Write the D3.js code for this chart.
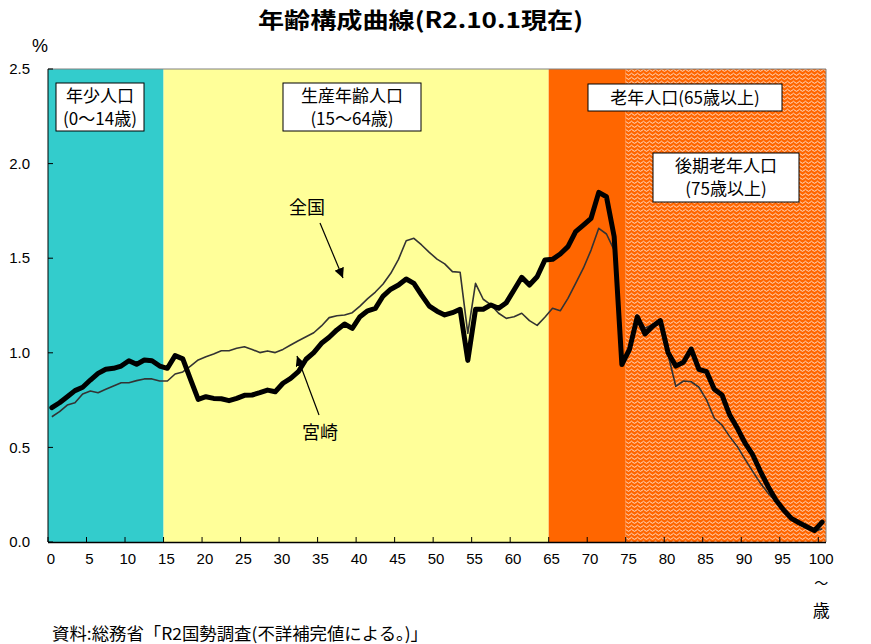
<!DOCTYPE html>
<html><head><meta charset="utf-8">
<script src="https://cdn.jsdelivr.net/npm/d3@7"></script>
<style>
body{margin:0;background:#fff;}
svg{display:block;}
</style></head>
<body>
<svg id="chart" width="871" height="644"></svg>
<script>
// ---- data ----
const ages = d3.range(0, 101).map(String);
const tickAges = ["0","5","10","15","20","25","30","35","40","45","50","55","60","65","70","75","80","85","90","95","100"];
const yTicks = [0, 0.5, 1.0, 1.5, 2.0, 2.5];
const miyazaki = [
0.710,0.736,0.768,0.800,0.818,0.856,0.891,0.913,0.918,0.930,
0.958,0.939,0.962,0.958,0.930,0.918,0.985,0.968,0.860,0.754,
0.768,0.759,0.757,0.747,0.759,0.775,0.777,0.789,0.803,0.794,
0.839,0.865,0.900,0.966,1.001,1.050,1.082,1.121,1.152,1.129,
1.191,1.222,1.235,1.300,1.336,1.358,1.390,1.367,1.305,1.247,
1.220,1.200,1.212,1.230,0.960,1.230,1.230,1.253,1.235,1.265,
1.332,1.399,1.358,1.402,1.490,1.494,1.522,1.561,1.640,1.675,
1.711,1.848,1.825,1.614,0.938,1.020,1.190,1.100,1.140,1.170,
1.000,0.930,0.950,1.020,0.913,0.900,0.807,0.777,0.671,0.601,
0.522,0.460,0.372,0.292,0.222,0.169,0.125,0.102,0.081,0.060,
0.105];
const zenkoku = [
0.662,0.689,0.724,0.736,0.782,0.798,0.789,0.807,0.825,0.842,
0.842,0.853,0.862,0.862,0.851,0.851,0.888,0.899,0.930,0.962,
0.979,0.994,1.011,1.011,1.024,1.032,1.018,1.001,1.010,1.001,
1.018,1.041,1.064,1.085,1.106,1.142,1.186,1.196,1.200,1.212,
1.247,1.286,1.321,1.364,1.420,1.494,1.592,1.605,1.570,1.531,
1.495,1.470,1.429,1.426,1.103,1.367,1.283,1.253,1.209,1.182,
1.191,1.209,1.170,1.145,1.188,1.235,1.222,1.288,1.367,1.447,
1.543,1.658,1.628,1.543,0.950,1.000,1.200,1.130,1.150,1.160,
0.990,0.823,0.851,0.847,0.818,0.751,0.654,0.618,0.557,0.504,
0.437,0.372,0.310,0.257,0.213,0.165,0.120,0.095,0.075,0.055,
0.070];
const bands = [
  {from:"0", to:"15", color:"#33CCCC"},
  {from:"15", to:"65", color:"#FFFF99"},
  {from:"65", to:"75", color:"#FF6600"},
  {from:"75", to:null, color:"url(#wave)"}
];
const boxes = [
  {lines:["年少人口","(0〜14歳)"]},
  {lines:["生産年齢人口","(15〜64歳)"]},
  {lines:["老年人口(65歳以上)"]},
  {lines:["後期老年人口","(75歳以上)"]}
];

// ---- layout ----
const svg = d3.select("#chart");
const L = 48, R = 826, T = 69, B = 542;
const x = d3.scaleBand().domain(ages).range([L, R]).padding(0);
const y = d3.scaleLinear().domain([0, 2.5]).range([B, T]);
const cx = a => x(a) + x.bandwidth()/2;

const defs = svg.append("defs");
const pat = defs.append("pattern").attr("id","wave").attr("patternUnits","userSpaceOnUse")
  .attr("width",6).attr("height",4);
pat.append("rect").attr("width",6).attr("height",4).attr("fill","#FF6600");
pat.append("path").attr("d","M0,2.5 L1.5,1.2 L3,2.5 L4.5,3.3 L6,2.5")
  .attr("fill","none").attr("stroke","#fff").attr("stroke-width",0.9).attr("opacity",0.85);
const mk2 = defs.append("marker").attr("id","arr2").attr("viewBox","0 0 10 10")
  .attr("refX",10).attr("refY",5).attr("markerWidth",10).attr("markerHeight",10)
  .attr("markerUnits","userSpaceOnUse").attr("orient","auto");
mk2.append("path").attr("d","M0,0 L10,5 L0,10 Z").attr("fill","#000");

// bands
svg.append("g").selectAll("rect").data(bands).join("rect")
  .attr("x", d => x(d.from))
  .attr("y", T)
  .attr("width", d => (d.to ? x(d.to) : R) - x(d.from))
  .attr("height", B - T)
  .attr("fill", d => d.color);

// plot border (top/right)
svg.append("path").attr("d",`M${L},${T}H${R}V${B}`).attr("fill","none").attr("stroke","#808080").attr("stroke-width",1);

// lines
const line = d3.line().x((d,i) => cx(ages[i])).y(d => y(d));
svg.append("path").datum(zenkoku).attr("d", line).attr("fill","none")
  .attr("stroke","#333").attr("stroke-width",1.6).attr("stroke-linejoin","round");
svg.append("path").datum(miyazaki).attr("d", line).attr("fill","none")
  .attr("stroke","#000").attr("stroke-width",5).attr("stroke-linejoin","round").attr("stroke-linecap","round");

// axes
const axG = svg.append("g");
axG.append("line").attr("x1",L).attr("x2",L).attr("y1",T).attr("y2",B).attr("stroke","#000");
axG.append("line").attr("x1",L).attr("x2",R).attr("y1",B+0.5).attr("y2",B+0.5).attr("stroke","#000").attr("stroke-width",1.5);
axG.selectAll(".yt").data(yTicks).join("line")
  .attr("x1",L).attr("x2",L+5).attr("y1",d=>y(d)).attr("y2",d=>y(d)).attr("stroke","#000");
axG.selectAll(".yl").data(yTicks).join("text")
  .attr("x",30).attr("y",d=>y(d)).attr("dy","0.35em").attr("text-anchor","end")
  .attr("font-family","Liberation Sans, Arial, sans-serif").attr("font-size",15)
  .text(d=>d.toFixed(1));
axG.selectAll(".xt").data(tickAges).join("line")
  .attr("x1",d=>x(d)).attr("x2",d=>x(d)).attr("y1",B).attr("y2",B-5).attr("stroke","#000");
axG.selectAll(".xl").data(tickAges).join("text")
  .attr("x",d=>cx(d)-1).attr("y",564).attr("text-anchor","middle")
  .attr("font-family","Liberation Sans, Arial, sans-serif").attr("font-size",15)
  .text(d=>d);
axG.append("text").attr("x",cx("100")-1).attr("y",588).attr("text-anchor","middle")
  .attr("font-family","Noto Sans CJK JP").attr("font-size",14).text("〜");
axG.append("text").attr("x",cx("100")-1).attr("y",617).attr("text-anchor","middle")
  .attr("font-family","Noto Sans CJK JP").attr("font-size",17).text("歳");
svg.append("text").attr("x",40).attr("y",52).attr("text-anchor","middle")
  .attr("font-family","Liberation Sans, Arial, sans-serif").attr("font-size",18).text("%");

// title
svg.append("text").attr("x",258).attr("y",28)
  .attr("font-family","Noto Sans CJK JP").attr("font-weight","bold").attr("font-size",22)
  .attr("textLength",325).attr("lengthAdjust","spacingAndGlyphs")
  .text("年齢構成曲線(R2.10.1現在)");

// footnote
svg.append("text").attr("x",52).attr("y",640)
  .attr("font-family","Noto Sans CJK JP").attr("font-size",17)
  .attr("textLength",376).attr("lengthAdjust","spacingAndGlyphs")
  .text("資料:総務省「R2国勢調査(不詳補完値による。)」");

// annotation boxes
const boxPos = [
  {x0:56, x1:144, y0:83, y1:131},
  {x0:283, x1:421, y0:83, y1:131},
  {x0:588, x1:782, y0:84, y1:111},
  {x0:653, x1:799, y0:153, y1:202}
];
boxes.forEach((b,i) => {
  const p = boxPos[i];
  const g = svg.append("g");
  g.append("rect").attr("x",p.x0).attr("y",p.y0).attr("width",p.x1-p.x0).attr("height",p.y1-p.y0)
    .attr("fill","#fff").attr("stroke","#000").attr("stroke-width",1);
  const n = b.lines.length, lh = 23;
  const mid = (p.y0+p.y1)/2;
  b.lines.forEach((t,j) => {
    g.append("text").attr("x",(p.x0+p.x1)/2).attr("y", mid + (j-(n-1)/2)*lh).attr("dy","0.36em")
      .attr("text-anchor","middle").attr("font-family","Noto Sans CJK JP").attr("font-size",17).text(t);
  });
});

// series labels with arrows
svg.append("text").attr("x",307).attr("y",208).attr("dy","0.36em").attr("text-anchor","middle")
  .attr("font-family","Noto Sans CJK JP").attr("font-size",18).text("全国");
svg.append("line").attr("x1",320).attr("y1",223).attr("x2",343).attr("y2",278)
  .attr("stroke","#000").attr("stroke-width",1.2).attr("marker-end","url(#arr2)");
svg.append("text").attr("x",320).attr("y",433).attr("dy","0.36em").attr("text-anchor","middle")
  .attr("font-family","Noto Sans CJK JP").attr("font-size",18).text("宮崎");
svg.append("line").attr("x1",319).attr("y1",415).attr("x2",297).attr("y2",356)
  .attr("stroke","#000").attr("stroke-width",1.2).attr("marker-end","url(#arr2)");
</script>
</body></html>
